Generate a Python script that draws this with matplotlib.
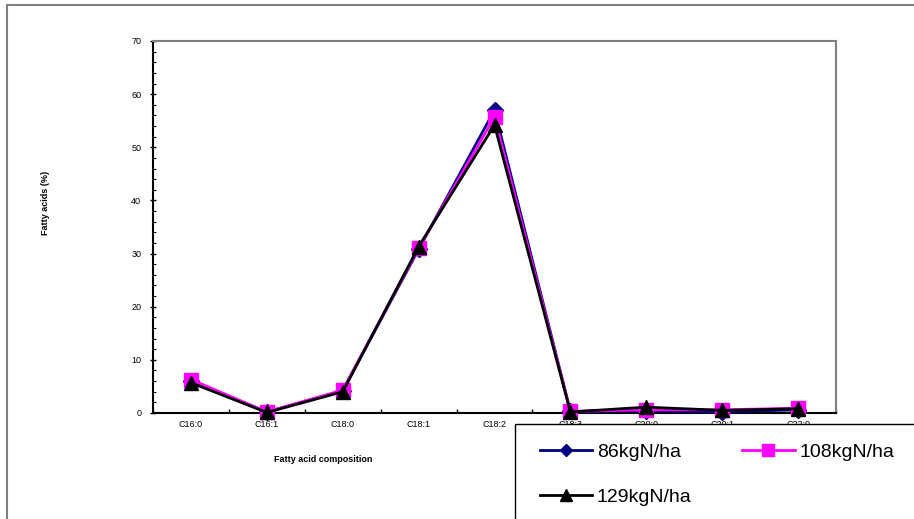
import numpy as np
import matplotlib.pyplot as plt
from matplotlib.patches import Rectangle
from matplotlib.ticker import MultipleLocator

plt.rcParams['font.family'] = ['Liberation Sans', 'DejaVu Sans']

acids = ['C16:0', 'C16:1', 'C18:0', 'C18:1', 'C18:2', 'C18:3', 'C20:0', 'C20:1', 'C22:0']
n86 = [6.0, 0.2, 4.2, 30.8, 57.0, 0.3, 0.4, 0.2, 0.6]
n108 = [6.3, 0.2, 4.3, 31.0, 55.7, 0.3, 0.6, 0.6, 0.9]
n129 = [5.7, 0.1, 4.0, 31.3, 54.2, 0.2, 1.1, 0.5, 0.8]
labels = ['86kgN/ha', '108kgN/ha', '129kgN/ha']

W, H = 914, 519
fig = plt.figure(figsize=(W / 100, H / 100), dpi=100)
ax = fig.add_axes([153 / W, 1 - 413 / H, 683 / W, 372 / H])

x = np.arange(len(acids))
l1, = ax.plot(x, n86, color='#000080', marker='D', markersize=8, lw=2, clip_on=False, zorder=3)
l2, = ax.plot(x, n108, color='#ff00ff', marker='s', markersize=10, lw=2, clip_on=False, zorder=4)
l3, = ax.plot(x, n129, color='black', marker='^', markersize=10, lw=2, clip_on=False, zorder=5)

ax.set_xlim(-0.5, len(acids) - 0.5)
ax.set_ylim(0, 70)
ax.set_xticks(x)
ax.set_xticklabels(acids, fontsize=6.5)
ax.set_xticks(np.arange(-0.5, len(acids)), minor=True)
ax.tick_params(axis='x', which='major', length=0, pad=5)
ax.tick_params(axis='x', which='minor', direction='in', length=3, width=1)
ax.yaxis.set_major_locator(MultipleLocator(10))
ax.yaxis.set_minor_locator(MultipleLocator(2))
ax.tick_params(axis='y', which='major', direction='inout', length=5, width=1, labelsize=6.5, pad=6)
ax.tick_params(axis='y', which='minor', direction='in', length=2.5, width=0.8)

for s in ['top', 'right']:
    ax.spines[s].set_color('#808080')
    ax.spines[s].set_linewidth(1.5)
for s in ['left', 'bottom']:
    ax.spines[s].set_color('black')
    ax.spines[s].set_linewidth(1.5)

fig.text(45 / W, 1 - 203 / H, 'Fatty acids (%)', rotation=90, fontsize=6.5,
         fontweight='bold', ha='center', va='center')
fig.text(323 / W, 1 - 459 / H, 'Fatty acid composition', fontsize=6.5,
         fontweight='bold', ha='center', va='center')

# outer chart border
fig.patches.append(Rectangle((7 / W, -0.1), 1.2, 1 - 5 / H + 0.1, transform=fig.transFigure,
                             fill=False, edgecolor='#808080', lw=1.5, clip_on=False))

# legend box
fig.patches.append(Rectangle((515 / W, -0.1), 1.2, 1 - 424 / H + 0.1, transform=fig.transFigure,
                             facecolor='white', edgecolor='black', lw=1.0, clip_on=False, zorder=6))
# row-wise order: 86, 108 on the first row, 129 below
leg = fig.legend([l1, l3, l2], [labels[0], labels[2], labels[1]], loc='upper left',
                 bbox_to_anchor=(522 / W, 1 - 426 / H),
                 ncol=2, frameon=False, fontsize=14, handlelength=2.7, handletextpad=0.25,
                 columnspacing=2.6, labelspacing=1.4, markerscale=0.8)
leg.set_zorder(7)

fig.savefig('out.png', dpi=100)
